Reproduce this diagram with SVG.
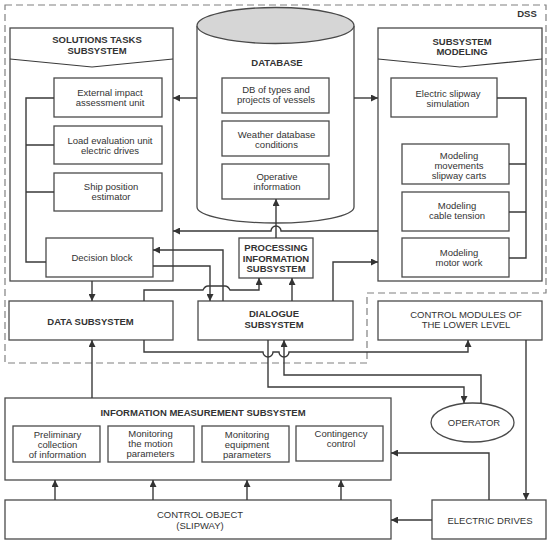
<svg xmlns="http://www.w3.org/2000/svg" width="550" height="543" viewBox="0 0 550 543">
<style>
.box{fill:#fff;stroke:#4a4a4a;stroke-width:1.3}
.ln{fill:none;stroke:#3a3a3a;stroke-width:1.4}
.arr{fill:none;stroke:#3a3a3a;stroke-width:1.4;marker-end:url(#ah)}
.t{font-family:"Liberation Sans",Arial,sans-serif;font-size:9.5px;fill:#333;text-anchor:middle}
.b{font-weight:bold}
.dash{fill:none;stroke:#808080;stroke-width:1.2;stroke-dasharray:7 4}
</style>
<defs>
<marker id="ah" viewBox="0 0 10 10" refX="10" refY="5" markerWidth="7" markerHeight="7" markerUnits="userSpaceOnUse" orient="auto">
<path d="M0,0 L10,5 L0,10 z" fill="#333"/>
</marker>
</defs>
<rect width="550" height="543" fill="#fff"/>

<g id="dss">
<path class="dash" d="M5,5 H546 V293 H367 V363 H5 Z"/>
<text class="t b" x="527" y="17">DSS</text>
</g>

<g id="solutions">
<rect class="box" x="10" y="28" width="163" height="253"/>
<polyline class="ln" points="10,59 92,67 173,59" style="stroke-width:1.2"/>
<text class="t b" x="97" y="43">SOLUTIONS TASKS</text>
<text class="t b" x="97" y="54">SUBSYSTEM</text>
</g>
<g id="external-impact">
<rect class="box" x="54" y="78" width="108" height="39"/>
<text class="t" x="110" y="96">External impact</text>
<text class="t" x="110" y="106">assessment unit</text>
</g>
<g id="load-evaluation">
<rect class="box" x="54" y="126" width="108" height="38"/>
<text class="t" x="110" y="144">Load evaluation unit</text>
<text class="t" x="110" y="154">electric drives</text>
</g>
<g id="ship-position">
<rect class="box" x="54" y="173" width="108" height="38"/>
<text class="t" x="111" y="190">Ship position</text>
<text class="t" x="111" y="200">estimator</text>
</g>
<g id="decision-block">
<rect class="box" x="46" y="238" width="107" height="39"/>
<text class="t" x="102" y="261">Decision block</text>
</g>

<g id="database">
<path class="box" d="M197,26 V207 A78.5,16 0 0 0 354,207 V26"/>
<ellipse cx="275.5" cy="25.5" rx="78.5" ry="18" fill="#d6d6d6" stroke="#4a4a4a" stroke-width="1.3"/>
<text class="t b" x="277" y="66">DATABASE</text>
</g>
<g id="db-types">
<rect class="box" x="222" y="78" width="107" height="35"/>
<text class="t" x="276" y="93">DB of types and</text>
<text class="t" x="276" y="103">projects of vessels</text>
</g>
<g id="weather">
<rect class="box" x="222" y="121" width="107" height="35"/>
<text class="t" x="276.5" y="138">Weather database</text>
<text class="t" x="276.5" y="148">conditions</text>
</g>
<g id="operative">
<rect class="box" x="222" y="164" width="107" height="35"/>
<text class="t" x="277" y="179.5">Operative</text>
<text class="t" x="277" y="189.5">information</text>
</g>

<g id="modeling">
<rect class="box" x="378" y="28" width="164" height="253"/>
<polyline class="ln" points="378,59 460,67 542,59" style="stroke-width:1.2"/>
<text class="t b" x="462" y="45">SUBSYSTEM</text>
<text class="t b" x="462" y="55">MODELING</text>
</g>
<g id="slipway-simulation">
<rect class="box" x="391" y="78" width="106" height="39"/>
<text class="t" x="448" y="97">Electric slipway</text>
<text class="t" x="448" y="107">simulation</text>
</g>
<g id="modeling-movements">
<rect class="box" x="402" y="144" width="107" height="40"/>
<text class="t" x="459" y="159">Modeling</text>
<text class="t" x="459" y="169">movements</text>
<text class="t" x="459" y="179">slipway carts</text>
</g>
<g id="modeling-cable">
<rect class="box" x="402" y="192" width="107" height="39"/>
<text class="t" x="457" y="209">Modeling</text>
<text class="t" x="457" y="219">cable tension</text>
</g>
<g id="modeling-motor">
<rect class="box" x="402" y="238" width="107" height="39"/>
<text class="t" x="459" y="256">Modeling</text>
<text class="t" x="459" y="266">motor work</text>
</g>

<g id="processing">
<rect class="box" x="239" y="238" width="74" height="40"/>
<text class="t b" x="276" y="251">PROCESSING</text>
<text class="t b" x="276" y="261.5">INFORMATION</text>
<text class="t b" x="276" y="272">SUBSYSTEM</text>
</g>
<g id="data-subsystem">
<rect class="box" x="9" y="301" width="164" height="39"/>
<text class="t b" x="90.5" y="325">DATA SUBSYSTEM</text>
</g>
<g id="dialogue">
<rect class="box" x="198" y="301" width="155" height="39"/>
<text class="t b" x="274" y="317">DIALOGUE</text>
<text class="t b" x="274" y="328">SUBSYSTEM</text>
</g>
<g id="control-modules">
<rect class="box" x="378" y="301" width="164" height="39"/>
<text class="t" x="466" y="317.5">CONTROL MODULES OF</text>
<text class="t" x="466" y="328">THE LOWER LEVEL</text>
</g>

<g id="operator">
<ellipse class="box" cx="472.5" cy="422.5" rx="41.5" ry="19.5"/>
<text class="t" x="474" y="425.5">OPERATOR</text>
</g>

<g id="info-measurement">
<rect class="box" x="5" y="398" width="386" height="82"/>
<text class="t b" x="203" y="416">INFORMATION MEASUREMENT SUBSYSTEM</text>
</g>
<g id="preliminary">
<rect class="box" x="13" y="426" width="87" height="36"/>
<text class="t" x="57.5" y="437.5">Preliminary</text>
<text class="t" x="57.5" y="448">collection</text>
<text class="t" x="57.5" y="458">of information</text>
</g>
<g id="monitoring-motion">
<rect class="box" x="108" y="426" width="86" height="36"/>
<text class="t" x="150.5" y="437">Monitoring</text>
<text class="t" x="150.5" y="447">the motion</text>
<text class="t" x="150.5" y="457">parameters</text>
</g>
<g id="monitoring-equipment">
<rect class="box" x="202" y="426" width="87" height="36"/>
<text class="t" x="247" y="437.5">Monitoring</text>
<text class="t" x="247" y="448">equipment</text>
<text class="t" x="247" y="458">parameters</text>
</g>
<g id="contingency">
<rect class="box" x="296" y="426" width="87" height="35"/>
<text class="t" x="341" y="437">Contingency</text>
<text class="t" x="341" y="447">control</text>
</g>

<g id="control-object">
<rect class="box" x="5" y="500" width="386" height="39"/>
<text class="t" x="200" y="518">CONTROL OBJECT</text>
<text class="t" x="200" y="528.5">(SLIPWAY)</text>
</g>
<g id="electric-drives">
<rect class="box" x="432" y="500" width="114" height="39"/>
<text class="t" x="490" y="523.5">ELECTRIC DRIVES</text>
</g>

<g id="connectors">
<path class="arr" d="M197,98 H173"/>
<path class="arr" d="M354,98 H378"/>
<path class="ln" d="M54,98 H26 V262 H46 M26,145 H54 M26,192 H54"/>
<path class="ln" d="M497,98 H526 V258 H509 M509,164 H526 M509,212 H526"/>
<path class="arr" d="M378,231 H281 A5,5 0 0 0 271,231 H173"/>
<path class="arr" d="M276,238 V199"/>
<path class="arr" d="M92,281 V301"/>
<path class="arr" d="M223,301 V250 H153"/>
<path class="arr" d="M153,266 H210 V301"/>
<path class="arr" d="M144,301 V290 H203 Q205,286 208,286 H225 Q228,286 230,290 H259 V278"/>
<path class="arr" d="M292,301 V278"/>
<path class="arr" d="M333,301 V262 H378"/>
<path class="arr" d="M144,340 V352 H263 A5,5 0 0 0 273,352 H279 A5,5 0 0 0 289,352 H468 V340"/>
<path class="arr" d="M268,340 V387 H464 V403"/>
<path class="arr" d="M481,403 V375 H284 V340"/>
<path class="arr" d="M526,340 V500"/>
<path class="arr" d="M489,500 V453 H391"/>
<path class="arr" d="M432,520 H391"/>
<path class="arr" d="M55,500 V480"/>
<path class="arr" d="M153,500 V480"/>
<path class="arr" d="M247,500 V480"/>
<path class="arr" d="M341,500 V480"/>
<path class="arr" d="M92,398 V340"/>
</g>
</svg>
